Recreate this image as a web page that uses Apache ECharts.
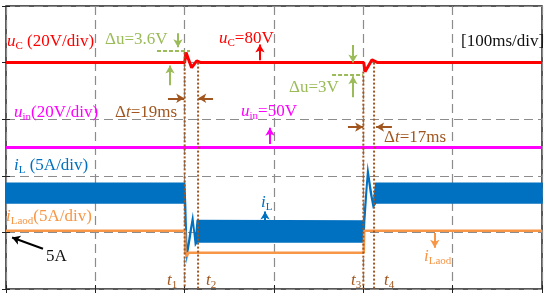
<!DOCTYPE html>
<html>
<head>
<meta charset="utf-8">
<script src="https://cdn.jsdelivr.net/npm/echarts@6/dist/echarts.min.js"></script>
<style>
  html, body { margin: 0; padding: 0; background: #fff; }
  #chart { width: 550px; height: 297px; }
</style>
</head>
<body>
<div id="chart"></div>
<script>
// time in ms (100ms/div), value in divisions from bottom
var uCTime = [0, 200, 201.5, 207.8, 213.5, 218, 400.5, 401.9, 409.7, 416, 600];
var uCVal  = [4, 4, 4.18, 3.91, 4.03, 4, 4, 3.84, 4.05, 4, 4];

var uinTime = [0, 600];
var uinVal  = [2.5, 2.5];

var iLoadTime = [0, 200.5, 201, 202.5, 204, 400.5, 401, 600];
var iLoadVal  = [1.03, 1.03, 0.62, 0.58, 0.64, 0.64, 1.03, 1.03];

// iL ripple envelope
var iLTime = [0, 200, 201, 202.5, 206, 209, 212, 214, 400.5, 401.5, 405, 408, 411, 414, 600];
var iLLow  = [1.52, 1.52, 1.2, 0.57, 0.9, 1.22, 0.78, 0.83, 0.83, 1.2, 2.03, 1.7, 1.45, 1.52, 1.52];
var iLHigh = [1.87, 1.87, 1.5, 0.62, 1.0, 1.27, 0.85, 1.21, 1.2, 1.4, 2.12, 1.8, 1.5, 1.87, 1.87];

// dotted markers t1..t4
var markTime = [200, 215, 400, 412];
var markTop  = [4.18, 4.0, 3.84, 4.0];

var RED = '#ff0000', MAG = '#ff00ff', BLUE = '#0070c0', ORG = '#f79646';
var GRN = '#9bbb59', BRN = '#a0561e';
var FF = '"Liberation Serif", "Times New Roman", serif';

function zip(a, b) { return a.map(function (v, i) { return [v, b[i]]; }); }

var myChart = echarts.init(document.getElementById('chart'));

// annotation arrows in data units: [t0, v0, t1, v1, color]
var arrows = [
  [192.5, 4.52, 192.5, 4.27, GRN],
  [183.6, 3.6, 183.6, 3.95, GRN],
  [284.3, 4.04, 284.3, 4.32, RED],
  [388.4, 4.31, 388.4, 4.0, GRN],
  [388.4, 3.39, 388.4, 3.76, GRN],
  [181.3, 3.37, 199.5, 3.37, BRN],
  [231.7, 3.37, 215.2, 3.37, BRN],
  [382.8, 2.86, 399.8, 2.86, BRN],
  [432, 2.86, 414.3, 2.86, BRN],
  [295.5, 2.56, 295.5, 2.85, MAG],
  [290, 1.2, 290, 1.37, BLUE],
  [480, 0.99, 480, 0.73, ORG],
  [41.4, 0.71, 6.8, 0.91, '#000']
];
var dashLines = [
  [169, 4.205, 206, 4.205],
  [365, 3.78, 400, 3.78]
];

function rich(color) {
  return {
    i: { fontFamily: FF, fontSize: 17, fontStyle: 'italic', fill: color, lineHeight: 20 },
    n: { fontFamily: FF, fontSize: 17, fill: color, lineHeight: 20 },
    s: { fontFamily: FF, fontSize: 11, fill: color, lineHeight: 11, verticalAlign: 'bottom' }
  };
}
function label(x, y, text, color) {
  return {
    type: 'text', x: x, y: y, z: 100,
    style: { text: text, rich: rich(color), align: 'left', verticalAlign: 'middle' }
  };
}

var series = [
  {
    name: 'iL', type: 'custom', z: 3,
    data: [0],
    renderItem: function (params, api) {
      var pts = [];
      for (var i = 0; i < iLTime.length; i++) pts.push(api.coord([iLTime[i], iLHigh[i]]));
      for (var j = iLTime.length - 1; j >= 0; j--) pts.push(api.coord([iLTime[j], iLLow[j]]));
      return {
        type: 'polygon', shape: { points: pts },
        style: { fill: BLUE, stroke: BLUE, lineWidth: 1.5 }
      };
    }
  },
  {
    name: 'uC', type: 'line', data: zip(uCTime, uCVal), symbol: 'none', z: 4,
    lineStyle: { color: RED, width: 3 }
  },
  {
    name: 'uin', type: 'line', data: zip(uinTime, uinVal), symbol: 'none', z: 4,
    lineStyle: { color: MAG, width: 3 }
  },
  {
    name: 'iLoad', type: 'line', data: zip(iLoadTime, iLoadVal), symbol: 'none', z: 4,
    lineStyle: { color: ORG, width: 2.5 }
  }
];
markTime.forEach(function (t, k) {
  series.push({
    type: 'line', symbol: 'none', z: 5, silent: true,
    data: [[t, markTop[k]], [t, 0]],
    lineStyle: { color: BRN, width: 2, type: [2, 2] }
  });
});
series.push({
  type: 'line', data: [], z: 6, silent: true,
  markLine: {
    silent: true, animation: false,
    label: { show: false },
    symbol: ['none', 'arrow'], symbolSize: [7, 8],
    data: arrows.map(function (a) {
      return [
        { coord: [a[0], a[1]], lineStyle: { color: a[4], width: 2, type: 'solid' } },
        { coord: [a[2], a[3]] }
      ];
    })
  }
});
series.push({
  type: 'line', data: [], z: 6, silent: true,
  markLine: {
    silent: true, animation: false,
    label: { show: false },
    symbol: ['none', 'none'],
    data: dashLines.map(function (a) {
      return [
        { coord: [a[0], a[1]], lineStyle: { color: GRN, width: 2, type: [4, 2] } },
        { coord: [a[2], a[3]] }
      ];
    })
  }
});

var option = {
  animation: false,
  grid: { left: 6, right: 8, top: 6, bottom: 8, show: true, borderColor: '#222', borderWidth: 1.5 },
  xAxis: [
    {
      type: 'value', min: 0, max: 600, interval: 100, position: 'bottom',
      axisLine: { show: false }, axisLabel: { show: false },
      axisTick: { show: true, inside: true, length: 4, lineStyle: { color: '#222' } },
      splitLine: { show: true, lineStyle: { color: '#8c8c8c', width: 1.2, type: [9, 5] } }
    },
    {
      type: 'value', min: 0, max: 600, interval: 100, position: 'top',
      axisLine: { show: false }, axisLabel: { show: false },
      axisTick: { show: true, inside: true, length: 4, lineStyle: { color: '#222' } },
      splitLine: { show: false }
    }
  ],
  yAxis: [
    {
      type: 'value', min: 0, max: 5, interval: 1, position: 'left',
      axisLine: { show: false }, axisLabel: { show: false },
      axisTick: { show: true, inside: true, length: 4, lineStyle: { color: '#222' } },
      splitLine: { show: true, lineStyle: { color: '#8c8c8c', width: 1.2, type: [9, 5] } }
    },
    {
      type: 'value', min: 0, max: 5, interval: 1, position: 'right',
      axisLine: { show: false }, axisLabel: { show: false },
      axisTick: { show: true, inside: true, length: 4, lineStyle: { color: '#222' } },
      splitLine: { show: false }
    }
  ],
  series: series,
  graphic: [
    label(7, 42, '{i|u}{s|C}{n| (20V/div)}', RED),
    label(105, 40, '{n|Δu=3.6V}', GRN),
    label(219, 39, '{i|u}{s|C}{n|=80V}', RED),
    label(461, 42, '{n|[100ms/div]}', '#111'),
    label(289, 88, '{n|Δu=3V}', GRN),
    label(14, 113, '{i|u}{s|in}{n|(20V/div)}', MAG),
    label(115, 113, '{n|Δ}{i|t}{n|=19ms}', BRN),
    label(241, 112, '{i|u}{s|in}{n|=50V}', MAG),
    label(384, 138, '{n|Δ}{i|t}{n|=17ms}', BRN),
    label(14, 166, '{i|i}{s|L}{n| (5A/div)}', BLUE),
    label(261, 203, '{i|i}{s|L}', BLUE),
    label(6, 217, '{i|i}{s|Laod}{n|(5A/div)}', ORG),
    label(46, 257, '{n|5A}', '#111'),
    label(424, 257, '{i|i}{s|Laod}', ORG),
    label(167, 281, '{i|t}{s|1}', BRN),
    label(206, 281, '{i|t}{s|2}', BRN),
    label(351, 281, '{i|t}{s|3}', BRN),
    label(384, 281, '{i|t}{s|4}', BRN)
  ]
};
option && myChart.setOption(option);
window.addEventListener('resize', function () { myChart.resize(); });
</script>
</body>
</html>
